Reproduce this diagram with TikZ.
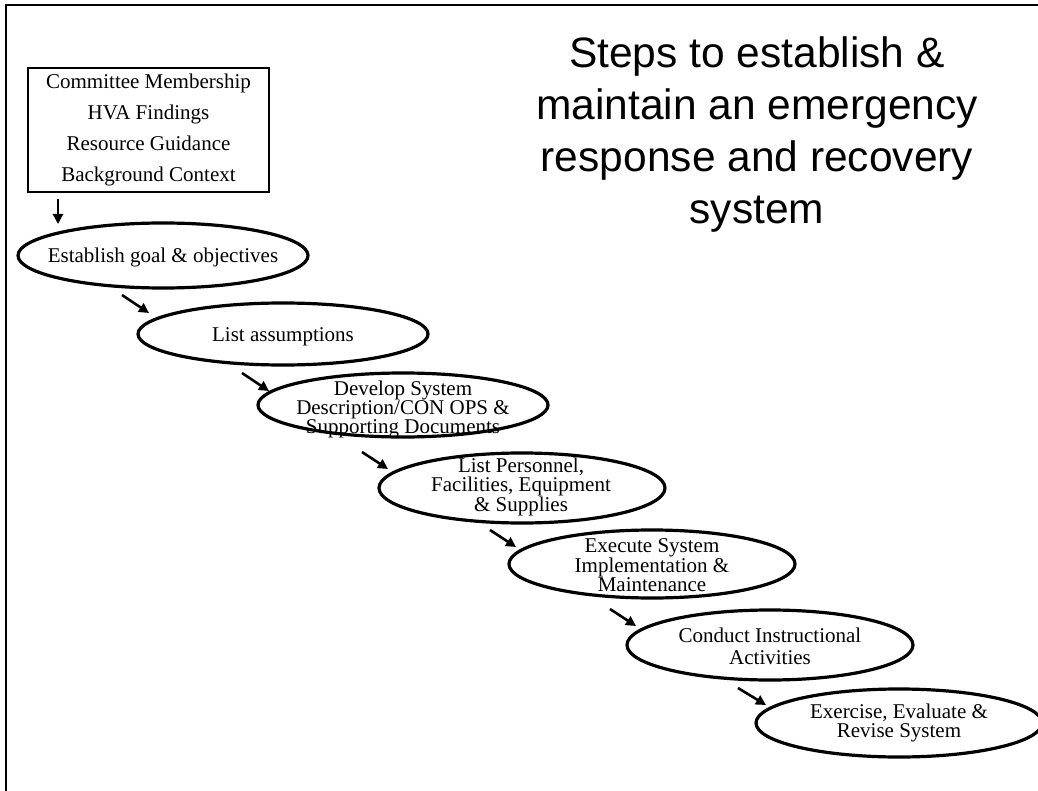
\documentclass[tikz,border=0pt]{standalone}
\usepackage{fontspec}
\setmainfont{Liberation Serif}
\newfontfamily\titlefont{Liberation Sans}
\usetikzlibrary{shapes.geometric,arrows.meta}
\begin{document}
\begin{tikzpicture}[x=1pt,y=-1pt,
  stepell/.style={ellipse, draw, line width=3.2pt, inner sep=0pt},
  steptxt/.style={align=center, inner sep=0pt, font=\fontsize{21}{19}\selectfont},
  arr/.style={line width=2.6pt, -{Triangle[length=10pt,width=10pt]}},
]
\useasboundingbox (0,0) rectangle (1038,791);
% frame
\coordinate (fl) at (6,791);
\coordinate (fc) at (6,5);
\coordinate (fr) at (1038,5);
\draw[line width=2.5pt] (fl) -- (fc) -- (fr);

% title
\node[align=center, inner sep=0pt, font=\titlefont\fontsize{42.5}{52}\selectfont] (title) at (757,135)
  {Steps to establish \&\\maintain an emergency\\response and recovery\\system};

% input box
\node[draw, line width=1.8pt, minimum width=241pt, minimum height=124pt, inner sep=0pt,
      align=center, font=\fontsize{21}{30.7}\selectfont] (box) at (148.5,130)
  {Committee Membership\\HVA Findings\\Resource Guidance\\Background Context};

% ellipses
\node[stepell, minimum width=290pt, minimum height=65pt] (e1) at (163,255.5) {};
\node[stepell, minimum width=290pt, minimum height=62pt] (e2) at (283,334) {};
\node[stepell, minimum width=290pt, minimum height=64pt] (e3) at (403,405) {};
\node[stepell, minimum width=286pt, minimum height=70pt] (e4) at (522,488) {};
\node[stepell, minimum width=286pt, minimum height=68pt] (e5) at (652,564) {};
\node[stepell, minimum width=286pt, minimum height=70pt] (e6) at (770,645) {};
\node[stepell, minimum width=286pt, minimum height=68pt] (e7) at (899,723) {};

% texts
\node[steptxt] (t1) at (163,257) {Establish goal \& objectives};
\node[steptxt] (t2) at (283,337) {List assumptions};
\node[steptxt] (t3) at (403,409) {Develop System\\Description/CON OPS \&\\Supporting Documents};
\node[steptxt] (t4) at (521,487) {List Personnel,\\Facilities, Equipment\\\& Supplies};
\node[steptxt] (t5) at (652,565) {Execute System\\Implementation \&\\Maintenance};
\node[steptxt, font=\fontsize{21}{22}\selectfont] (t6) at (770,646) {Conduct Instructional\\Activities};
\node[steptxt] (t7) at (899,723) {Exercise, Evaluate \&\\Revise System};

% arrows
\coordinate (a1s) at (58,199);  \coordinate (a1e) at (58,224);
\coordinate (a2s) at (122,295); \coordinate (a2e) at (149,313);
\coordinate (a3s) at (242,373); \coordinate (a3e) at (269,391);
\coordinate (a4s) at (362,452); \coordinate (a4e) at (388,469);
\coordinate (a5s) at (490,530); \coordinate (a5e) at (516,547);
\coordinate (a6s) at (610,609); \coordinate (a6e) at (636,626);
\coordinate (a7s) at (738,688); \coordinate (a7e) at (766,705);
\foreach \i in {1,...,7} { \draw[arr] (a\i s) -- (a\i e); }
\end{tikzpicture}
\end{document}
